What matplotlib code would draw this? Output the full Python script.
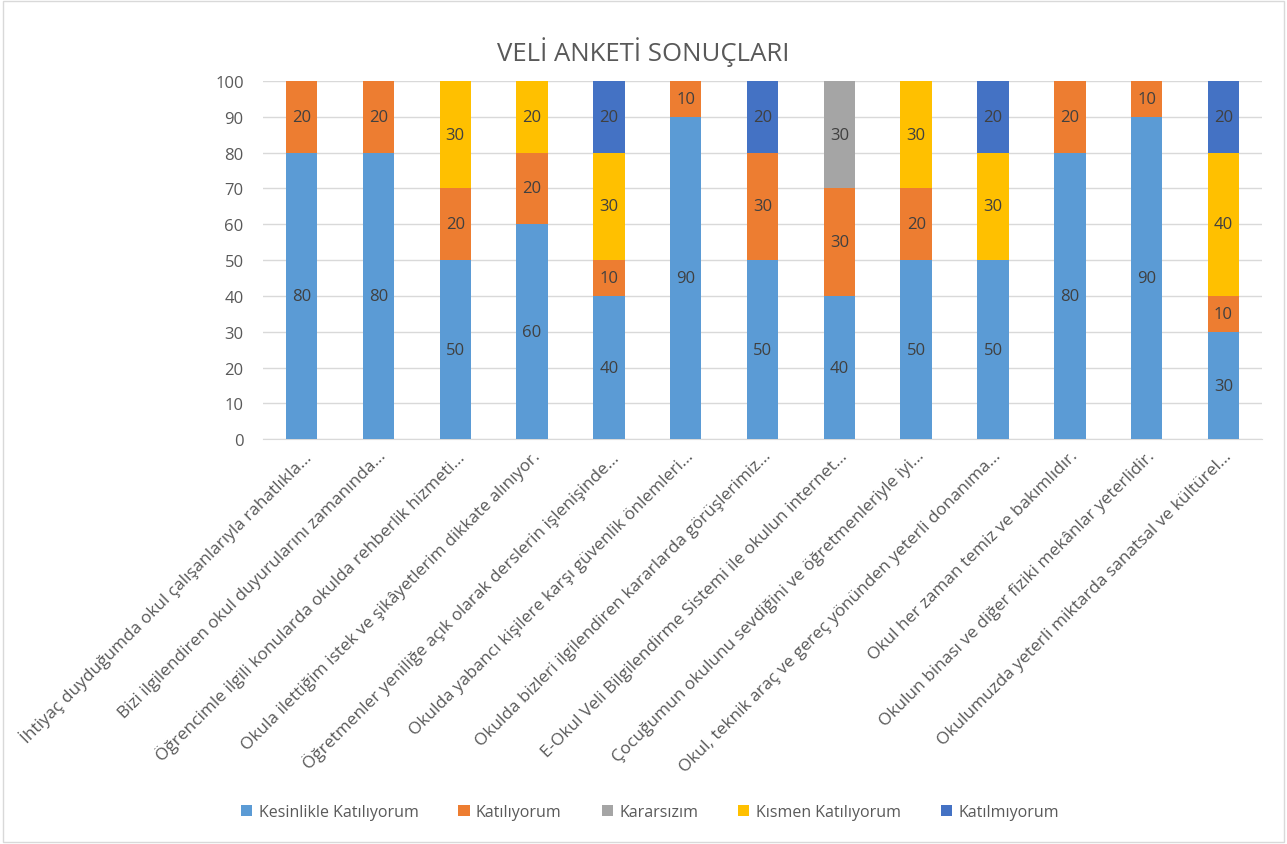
import numpy as np
import matplotlib
matplotlib.use("Agg")
import matplotlib.pyplot as plt
from matplotlib.patches import Rectangle

plt.rcParams['font.family'] = ['Open Sans', 'DejaVu Sans']

# Data
questions = [
    "İhtiyaç duyduğumda okul çalışanlarıyla rahatlıkla...",
    "Bizi ilgilendiren okul duyurularını zamanında...",
    "Öğrencimle ilgili konularda okulda rehberlik hizmeti...",
    "Okula ilettiğim istek ve şikâyetlerim dikkate alınıyor.",
    "Öğretmenler yeniliğe açık olarak derslerin işlenişinde...",
    "Okulda yabancı kişilere karşı güvenlik önlemleri...",
    "Okulda bizleri ilgilendiren kararlarda görüşlerimiz...",
    "E-Okul Veli Bilgilendirme Sistemi ile okulun internet...",
    "Çocuğumun okulunu sevdiğini ve öğretmenleriyle iyi...",
    "Okul, teknik araç ve gereç yönünden yeterli donanıma...",
    "Okul her zaman temiz ve bakımlıdır.",
    "Okulun binası ve diğer fiziki mekânlar yeterlidir.",
    "Okulumuzda yeterli miktarda sanatsal ve kültürel...",
]
series_names = ["Kesinlikle Katılıyorum", "Katılıyorum", "Kararsızım",
                "Kısmen Katılıyorum", "Katılmıyorum"]
kesinlikle = [80, 80, 50, 60, 40, 90, 50, 40, 50, 50, 80, 90, 30]
katiliyorum = [20, 20, 20, 20, 10, 10, 30, 30, 20, 0, 20, 10, 10]
kararsizim = [0, 0, 0, 0, 0, 0, 0, 30, 0, 0, 0, 0, 0]
kismen = [0, 0, 30, 20, 30, 0, 0, 0, 30, 30, 0, 0, 40]
katilmiyorum = [0, 0, 0, 0, 20, 0, 20, 0, 0, 20, 0, 0, 20]

colors = ["#5B9BD5", "#ED7D31", "#A5A5A5", "#FFC000", "#4472C4"]

fig = plt.figure(figsize=(12.87, 8.45), dpi=100)
ax = fig.add_axes([0.2045, 0.479, 0.776, 0.424])

x = np.arange(len(questions))
bottom = np.zeros(len(questions))
all_series = [kesinlikle, katiliyorum, kararsizim, kismen, katilmiyorum]
for name, vals, col in zip(series_names, all_series, colors):
    vals = np.array(vals)
    bars = ax.bar(x, vals, 0.41, bottom=bottom, color=col, label=name, zorder=3)
    labels = [str(v) if v > 0 else "" for v in vals]
    ax.bar_label(bars, labels=labels, label_type="center", fontsize=12,
                 color="#404040")
    bottom += vals

ax.set_ylim(0, 100)
ax.set_xlim(-0.5, len(questions) - 0.5)
ax.set_yticks(range(0, 101, 10))
ax.yaxis.grid(True, color="#D9D9D9", linewidth=1, zorder=0)
for s in ["top", "right", "left"]:
    ax.spines[s].set_visible(False)
ax.spines["bottom"].set_color("#D9D9D9")
ax.tick_params(axis="both", length=0, labelsize=12, labelcolor="#595959")
ax.tick_params(axis="y", pad=14)
ax.tick_params(axis="x", pad=6)
ax.set_xticks(x)
ax.set_xticklabels(questions, rotation=45, ha="right", rotation_mode="anchor",
                   fontsize=12.4)

fig.text(0.5, 0.938, "VELİ ANKETİ SONUÇLARI", ha="center", va="center",
         fontsize=18.5, color="#595959")

handles, lbls = ax.get_legend_handles_labels()
fig.legend(handles, lbls, loc="center", bbox_to_anchor=(0.505, 0.038), ncol=5,
           frameon=False, fontsize=11.5, labelcolor="#595959",
           handlelength=0.7, handleheight=0.7, columnspacing=2.5,
           handletextpad=0.4)

fig.patches.append(Rectangle((0.002, 0.002), 0.996, 0.996,
                             transform=fig.transFigure, fill=False,
                             edgecolor="#D9D9D9", linewidth=1))

fig.savefig("out.png", dpi=100)
